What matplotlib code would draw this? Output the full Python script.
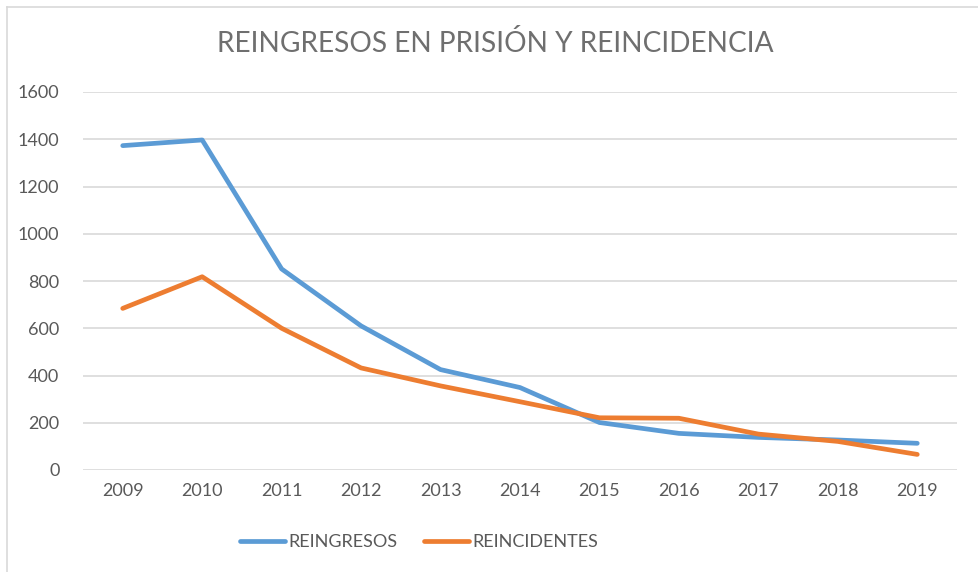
import matplotlib
matplotlib.use("Agg")
import matplotlib.pyplot as plt
from matplotlib.lines import Line2D

years = ["2009", "2010", "2011", "2012", "2013", "2014", "2015", "2016", "2017", "2018", "2019"]
reingresos = [1373, 1397, 851, 610, 425, 349, 201, 155, 138, 127, 113]
reincidentes = [684, 818, 600, 432, 356, 289, 221, 219, 152, 121, 66]
yticks = [0, 200, 400, 600, 800, 1000, 1200, 1400, 1600]

plt.rcParams['font.family'] = ['Lato', 'DejaVu Sans']
TXT = '#595959'
BLUE = '#5b9bd5'
ORANGE = '#ed7d31'

W, H = 979, 572
fig = plt.figure(figsize=(W / 100, H / 100), dpi=100)
ax = fig.add_axes([83 / W, 1 - 470 / H, (957 - 83) / W, (470 - 92) / H])

x = list(range(len(years)))
ax.plot(x, reingresos, color=BLUE, lw=3.4, solid_capstyle='round', solid_joinstyle='round', zorder=3)
ax.plot(x, reincidentes, color=ORANGE, lw=3.4, solid_capstyle='round', solid_joinstyle='round', zorder=3)

ax.set_xlim(-0.5, len(years) - 0.5)
ax.set_ylim(0, 1600)
ax.set_yticks(yticks)
ax.set_yticklabels([str(v) for v in yticks])
ax.set_xticks(x)
ax.set_xticklabels(years)
ax.tick_params(axis='both', length=0, labelsize=13, colors=TXT)
ax.tick_params(axis='y', pad=17)
ax.tick_params(axis='x', pad=9)
ax.grid(axis='y', color='#d9d9d9', lw=1.2, zorder=0)
for s in ax.spines.values():
    s.set_visible(False)

fig.text(495 / W, 1 - 44 / H, "REINGRESOS EN PRISIÓN Y REINCIDENCIA", ha='center', va='center',
         fontsize=20.2, color='#6f6f6f')

handles = [Line2D([], [], color=BLUE, lw=3.4, solid_capstyle='round'),
           Line2D([], [], color=ORANGE, lw=3.4, solid_capstyle='round')]
fig.legend(handles, ["REINGRESOS", "REINCIDENTES"], loc='center', bbox_to_anchor=(419 / W, 1 - 542 / H),
           ncol=2, frameon=False, fontsize=13, labelcolor=TXT, handlelength=2.5, handletextpad=0.15,
           columnspacing=1.5)

# outer border (top and left)
fig.add_artist(Line2D([7 / W, 7 / W], [0, 1 - 7 / H], color='#d9d9d9', lw=1.2, transform=fig.transFigure))
fig.add_artist(Line2D([7 / W, 1], [1 - 7 / H, 1 - 7 / H], color='#d9d9d9', lw=1.2, transform=fig.transFigure))

fig.savefig("out.png", dpi=100)
